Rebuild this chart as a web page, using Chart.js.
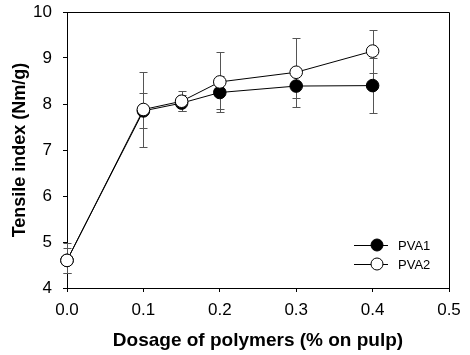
<!DOCTYPE html>
<html>
<head>
<meta charset="utf-8">
<script src="https://cdn.jsdelivr.net/npm/chart.js@4/dist/chart.umd.min.js"></script>
<style>
  html, body { margin: 0; padding: 0; background: #fff; }
  #wrap { width: 470px; height: 355px; }
</style>
</head>
<body>
<div id="wrap"><canvas id="c" width="470" height="355"></canvas></div>
<script>
// ---- data ----
const dosage = [0, 0.1, 0.15, 0.2, 0.3, 0.4];
const seriesNames = ['PVA1', 'PVA2'];
const pva1Mean  = [4.60, 7.85, 8.02, 8.25, 8.39, 8.40];
const pva1Upper = [4.98, 8.23, 8.20, 8.60, 8.64, 9.00];
const pva1Lower = [4.33, 7.47, 7.84, 7.90, 8.14, 7.80];
const pva2Mean  = [4.60, 7.88, 8.06, 8.48, 8.69, 9.15];
const pva2Upper = [4.87, 8.70, 8.28, 9.14, 9.44, 9.60];
const pva2Lower = [4.33, 7.06, 7.84, 7.83, 7.93, 8.68];
const xTicks = [0.0, 0.1, 0.2, 0.3, 0.4, 0.5];
const yTicks = [4, 5, 6, 7, 8, 9, 10];
const xTitle = 'Dosage of polymers (% on pulp)';
const yTitle = 'Tensile index (Nm/g)';

const FONT = '"Liberation Sans", Arial, sans-serif';

function pts(xs, ys) { return xs.map((x, i) => ({x: x, y: ys[i]})); }

const errorSets = [
  {upper: pva1Upper, lower: pva1Lower},
  {upper: pva2Upper, lower: pva2Lower}
];

const errorBarPlugin = {
  id: 'errorBars',
  beforeDatasetsDraw(chart) {
    const ctx = chart.ctx;
    const xs = chart.scales.x, ys = chart.scales.y;
    ctx.save();
    ctx.strokeStyle = '#555';
    ctx.lineWidth = 1;
    errorSets.forEach(es => {
      dosage.forEach((d, i) => {
        const px = Math.round(xs.getPixelForValue(d)) + 0.5;
        const yt = Math.round(ys.getPixelForValue(es.upper[i])) + 0.5;
        const yb = Math.round(ys.getPixelForValue(es.lower[i])) + 0.5;
        ctx.beginPath();
        ctx.moveTo(px, yt); ctx.lineTo(px, yb);
        ctx.moveTo(px - 4, yt); ctx.lineTo(px + 4, yt);
        ctx.moveTo(px - 4, yb); ctx.lineTo(px + 4, yb);
        ctx.stroke();
      });
    });
    ctx.restore();
  }
};

const framePlugin = {
  id: 'frame',
  afterDraw(chart) {
    const {ctx, chartArea: a} = chart;
    ctx.save();
    ctx.strokeStyle = '#000';
    ctx.lineWidth = 1;
    ctx.beginPath();
    ctx.moveTo(Math.round(a.left) + 0.5, Math.round(a.top) + 0.5);
    ctx.lineTo(Math.round(a.right) + 0.5, Math.round(a.top) + 0.5);
    ctx.lineTo(Math.round(a.right) + 0.5, Math.round(a.bottom) + 0.5);
    ctx.stroke();

    // legend inside plot area, bottom right
    const ds = chart.data.datasets;
    const legendOrder = [1, 0];
    const mx = a.right - 72;
    legendOrder.forEach((di, row) => {
      const d = ds[di];
      const y = a.bottom - 43 + row * 19;
      ctx.strokeStyle = '#000';
      ctx.lineWidth = 1;
      ctx.beginPath();
      ctx.moveTo(mx - 23, y + 0.5); ctx.lineTo(mx + 11, y + 0.5);
      ctx.stroke();
      ctx.beginPath();
      ctx.arc(mx, y, 6, 0, Math.PI * 2);
      ctx.fillStyle = d.pointBackgroundColor;
      ctx.fill();
      ctx.stroke();
      ctx.fillStyle = '#000';
      ctx.font = '13px ' + FONT;
      ctx.textBaseline = 'middle';
      ctx.textAlign = 'left';
      ctx.fillText(d.label, mx + 21, y + 1);
    });
    ctx.restore();
  }
};

new Chart(document.getElementById('c'), {
  type: 'scatter',
  data: {
    datasets: [
      {
        label: seriesNames[1],
        data: pts(dosage, pva2Mean),
        showLine: true,
        borderColor: '#000',
        borderWidth: 1,
        pointRadius: 6.3,
        pointBorderWidth: 1,
        pointBorderColor: '#000',
        pointBackgroundColor: '#fff',
        backgroundColor: '#fff',
        clip: false,
        order: 0
      },
      {
        label: seriesNames[0],
        data: pts(dosage, pva1Mean),
        showLine: true,
        borderColor: '#000',
        borderWidth: 1,
        pointRadius: 6.3,
        pointBorderWidth: 1,
        pointBorderColor: '#000',
        pointBackgroundColor: '#000',
        backgroundColor: '#000',
        clip: false,
        order: 1
      }
    ]
  },
  options: {
    responsive: false,
    animation: false,
    devicePixelRatio: 1,
    layout: { padding: { left: 0, right: 21, top: 12, bottom: 0 } },
    plugins: {
      legend: { display: false },
      tooltip: { enabled: false }
    },
    scales: {
      x: {
        type: 'linear',
        min: 0, max: 0.5,
        afterBuildTicks(s) { s.ticks = xTicks.map(v => ({value: v})); },
        afterFit(s) { s.height = 67; s.paddingLeft = 0; s.paddingRight = 0; },
        ticks: {
          color: '#000',
          font: { family: FONT, size: 17 },
          padding: 8,
          callback: v => v.toFixed(1),
          maxRotation: 0
        },
        grid: { drawOnChartArea: false, drawTicks: true, tickLength: 4, color: '#000' },
        border: { display: true, color: '#000', width: 1 },
        title: {
          display: true,
          text: xTitle,
          color: '#000',
          font: { family: FONT, size: 19, weight: 'bold' },
          padding: { top: 0, bottom: 3 }
        }
      },
      y: {
        type: 'linear',
        min: 4, max: 10,
        afterBuildTicks(s) { s.ticks = yTicks.map(v => ({value: v})); },
        afterFit(s) { s.width = 67; s.paddingTop = 0; s.paddingBottom = 0; },
        ticks: {
          color: '#000',
          font: { family: FONT, size: 17 },
          padding: 11
        },
        grid: { drawOnChartArea: false, drawTicks: true, tickLength: 4, color: '#000' },
        border: { display: true, color: '#000', width: 1 },
        title: {
          display: true,
          text: yTitle,
          color: '#000',
          font: { family: FONT, size: 18, weight: 'bold' },
          padding: { top: 9, bottom: 0 }
        }
      }
    }
  },
  plugins: [errorBarPlugin, framePlugin]
});
</script>
</body>
</html>
